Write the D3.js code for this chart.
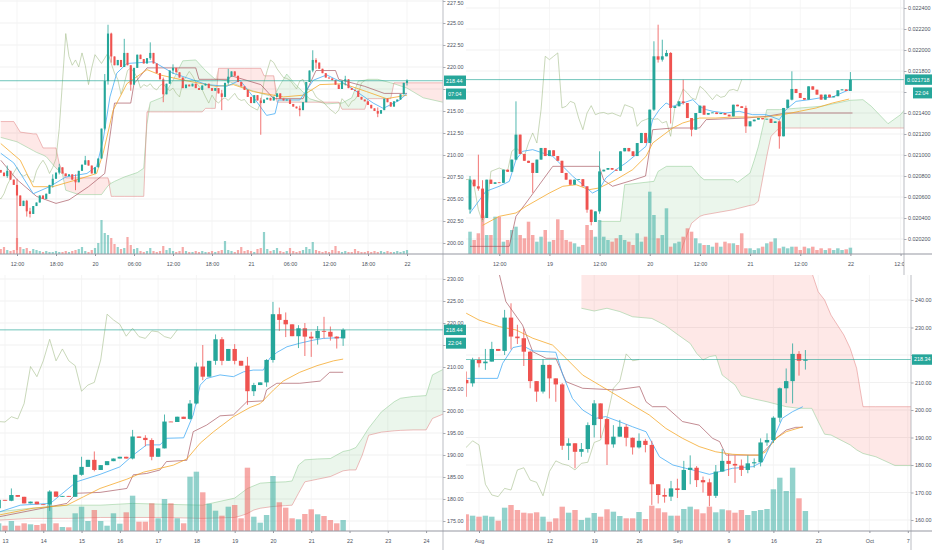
<!DOCTYPE html>
<html><head><meta charset="utf-8">
<script src="https://cdn.jsdelivr.net/npm/d3@7"></script>
<style>body{margin:0;background:#fff;}svg{display:block;}</style>
</head><body><script>
// ---------- PANEL 1 (30m candles) ----------
const p1FirstOpen = 208.3;
const p1Close = [208.0,207.6,208.2,207.2,206.6,205.4,204.2,204.8,203.6,203.3,
204.2,204.6,205.4,205.0,205.6,206.6,207.3,208.0,208.6,207.9,
207.6,207.8,207.2,206.9,208.2,208.9,209.4,208.8,207.9,208.6,
209.6,213.0,218.4,223.8,221.2,220.2,220.8,220.0,221.6,220.2,
218.0,219.9,221.4,220.9,220.4,221.0,221.6,220.4,219.3,218.6,
216.9,218.1,219.6,219.9,219.4,218.8,217.6,218.0,217.8,218.1,
217.6,217.4,217.9,218.1,217.6,217.3,217.6,217.0,216.6,218.2,
218.9,219.5,219.0,218.3,217.8,217.4,216.6,215.9,216.8,216.2,
215.9,216.3,216.5,216.2,216.6,217.0,216.4,216.2,216.3,215.8,
215.5,215.3,215.1,216.0,218.3,219.6,220.8,220.5,219.8,219.3,
218.8,218.7,218.5,218.0,217.5,218.4,218.6,217.6,217.4,217.3,
216.6,216.3,216.1,215.7,215.3,215.0,214.7,215.1,216.4,216.0,
215.5,216.1,216.3,216.9,218.2,218.44];
const p1Wicks = [[2,208.8,207.4],[5,207.3,199.2],[8,204.9,203.0],[9,204.0,202.9],[16,207.8,206.3],[18,209.0,207.8],[23,207.8,206.0],[26,209.9,208.9],[32,219.2,212.8],[33,224.8,218.0],[34,223.9,220.5],[38,223.2,220.0],[40,220.2,217.3],[46,222.8,220.8],[50,218.8,216.0],[53,220.3,219.2],[68,217.4,215.1],[70,219.8,218.0],[80,216.5,212.3],[92,215.6,214.4],[96,221.9,219.4],[97,221.0,219.8],[106,219.0,217.9],[116,215.4,214.3],[125,218.6,217.9]];
const p1Vol = [5,7,4,3,4,16,7,5,6,3, 5,4,3,2,3,2,2,3,2,2, 3,2,3,4,5,7,3,2,4,6, 11,34,21,19,16,10,7,5,6,17,
9,5,6,3,2,3,6,3,2,3, 8,4,6,3,2,3,7,3,2,2, 3,2,3,2,2,3,2,3,4,13, 4,3,2,4,7,3,4,3,2,5,
6,22,5,3,4,6,3,2,3,6, 3,2,3,4,7,5,12,4,3,2, 3,2,4,8,3,2,3,2,2,5, 3,2,2,3,2,3,2,3,2,3, 2,2,3,2,3,4];
const p1Blue = [[0,210.2],[4,209.1],[10,205.6],[15,206.4],[20,207.5],[26.5,207.9],[29.5,208.7],[31.5,211.7],[33.6,216.6],[35.7,219.3],[38.8,220.4],[47,220.6],[53,219.3],[63.4,218.0],[69.5,217.8],[73.6,218.5],[77.7,216.6],[81.8,214.5],[84.4,214.7],[85.4,216.25],[92,216.25],[96.2,218.5],[100.3,219.1],[106.4,218.0],[114.6,215.9],[117.7,215.3],[122.8,216.25],[125,217.0]];
const p1Orange = [[0,211.3],[6,209.4],[10,206.4],[16,206.4],[23.5,207.2],[29.5,207.9],[31.5,210.2],[34.6,215.1],[38.8,218.1],[45,219.7],[49,219.1],[56.2,218.5],[66.4,217.8],[71.6,218.0],[77.7,217.2],[87,216.6],[93.1,216.8],[98.2,218.0],[105.4,218.1],[112.6,217.2],[118.7,216.4],[125,216.8]];
const p1Base = [[0,209.4],[5,207.2],[11,205.3],[17,204.5],[21,204.9],[27,206.4],[32,207.9],[34,213.2],[35,215.9],[40,215.9],[41,218.1],[45,219.9],[60,219.9],[61,218.6],[70,218.6],[71,219.0],[80,218.0],[84,216.4],[93,216.4],[94,217.2],[97,219.6],[103,219.6],[104,218.6],[112,217.8],[118,217.0],[125,217.0]];
const p1Cloud = [[0,212.0,213.8],[4,211.6,213.8],[5,211.5,213.2],[6,211.3,212.6],[10,210.5,212.4],[11,210.3,212.4],[13,210.0,210.8],[14,209.8,210.8],[17,208.5,210.8],[18,208.2,209.0],[19,207.8,208.2],[20,206.0,207.4],[24,205.5,207.4],[31,205.5,207.4],[33,206.5,207.4],[34,206.8,205.3],[35,207.0,205.3],[38,207.5,205.3],[42,208.0,205.3],[44,208.5,205.3],[45,213.5,214.9],[46,216.0,214.9],[50,216.6,214.9],[53,218.5,214.9],[56,220.7,214.9],[60,220.8,214.9],[62,220.0,214.9],[63,219.6,215.3],[66,218.6,215.3],[67,218.6,219.85],[70,218.4,219.85],[75,217.6,219.85],[80,217.0,219.85],[81,216.9,219.0],[84,216.6,219.0],[85,217.3,216.0],[86,218.0,216.0],[88,219.2,216.0],[90,218.3,216.0],[95,216.4,216.0],[100,215.8,216.0],[104,215.9,216.0],[105,215.9,215.2],[108,216.5,215.2],[110,218.4,215.2],[112,218.5,215.2],[113,218.6,216.4],[116,218.6,216.4],[120,218.2,216.4],[121,218.1,218.2],[125,217.6,218.2],[130,216.5,218.2],[136,216.0,218.2]];
const p1XTicks = [5,17,29,41,53,65,77,89,101,113,125];
const p1XLabels = ["12:00","18:00","20","06:00","12:00","18:00","21","06:00","12:00","18:00","22"];
const p1YTicks = [200,202.5,205,207.5,210,212.5,215,217.5,220,222.5,225,227.5];

// ---------- PANEL 2 (1h candles, prices in units of 1e-6) ----------
const p2FirstOpen = 20480;
const p2Close = [20765,20702,20680,20400,20765,20725,20740,20735,20860,20840,
20956,21194,21010,20945,20925,20829,20956,21067,20990,21045,
20990,20945,20829,20765,20717,20765,20770,20702,20479,20362,
20463,20844,20860,20876,20860,20850,21035,21067,21035,20990,
21114,21210,21114,21432,21940,21908,21940,21972,21448,21464,
21511,21495,21352,21241,21400,21470,21384,21400,21405,21390,
21400,21384,21368,21479,21464,21448,21273,21321,21337,21352,
21340,21345,21305,21320,21178,21448,21527,21629,21590,21543,
21527,21654,21622,21575,21527,21575,21549,21560,21616,21625,
21610,21718];
const p2Wicks = [[0,20800,20440],[2,21003,20660],[3,20760,20380],[11,21511,20950],[15,20900,20640],[28,20560,20450],[29,20480,20330],[31,21035,20440],[44,22083,21420],[45,22241,21880],[46,22098,21890],[47,22000,21950],[48,21980,21300],[51,21718,21480],[53,21300,21178],[66,21470,21210],[74,21330,21060],[77,21797,21520],[91,21790,21620]];
const p2Vol = [22.3,14,20.7,37.3,19,19,37.3,37.3,12.3,14, 24,27.3,19,15.7,32.3,19,12.3,17.3,24,12.3,
14,34.7,24,14,12.3,10.7,7.3,9,29,24, 17.3,34,17.3,14,12.3,15.7,19,14,12.3,9,
20.7,12.3,17.3,62.3,39,15.7,19,45.7,7.3,10.7, 12.3,17.3,25.7,22.3,15.7,10.7,9,9,7.3,11.3,
7.3,12.3,10.7,10.7,9,20.7,5.7,5.7,4,5.7, 7.3,10.7,12.3,15.7,5.7,7.3,5.7,7.3,7.3,4,
7.3,5.7,7.3,4,5.7,4,5.7,4,5.7,4, 4.7,6.3];
const p2Blue = [[0,20448],[3.8,20654],[7,20702],[9.4,20749],[11,20956],[12.6,21035],[15,21051],[17.4,21019],[19.8,20987],[22.2,20892],[24.6,20797],[27,20717],[29.3,20638],[30.9,20670],[32.5,20781],[34.9,20860],[37.3,20924],[39.7,21003],[42.1,21083],[43.7,21337],[45.3,21432],[46.9,21495],[48.5,21464],[50.9,21495],[53.3,21527],[54.9,21464],[56.5,21432],[58.1,21416],[61.2,21400],[64.4,21416],[67.6,21384],[70.8,21384],[74,21337],[75.6,21432],[78,21511],[81.2,21527],[83.6,21543],[86.7,21552],[90.7,21622],[91,21640]];
const p2Orange = [[3,20330],[7,20416],[11,20448],[13.4,20511],[19,20638],[22.2,20702],[25.4,20717],[28.5,20670],[30.9,20686],[34.9,20765],[38.9,20860],[42.1,20987],[43.7,21114],[46.9,21210],[48.5,21257],[50.9,21305],[54.9,21352],[58.8,21352],[62.8,21362],[66.8,21362],[70.8,21362],[74.8,21384],[78.8,21416],[82.8,21448],[86.7,21495],[90.7,21533]];
const p2Base = [[0,20130],[9.4,20130],[11,20416],[13.4,20543],[19.8,20892],[30.9,20892],[32,20760],[34.1,20702],[38.9,20760],[42,20800],[43.7,21241],[48.5,21257],[54.9,21257],[56.5,21337],[66,21352],[70.8,21368],[75.6,21400],[91.5,21400]];
const p2Cloud = [[31,20368,20000],[36,20368,20000],[37,20717,20000],[44,20749,20000],[45,20844,20000],[47,20892,20000],[50,20892,20000],[51,20892,20146],[53,20892,20350],[55,20797,20416],[56,20765,20430],[63,20765,20479],[64,20740,20490],[67,20829,20520],[68,20950,20527],[69,21083,20560],[71,21432,20987],[72,21432,21178],[74,21432,21257],[84,21464,21257],[91,21521,21257],[94,21527,21257],[96,21464,21257],[100,21298,21257],[103,21384,21257],[104,21432,21257]];
const p2XTicks = [7,19,31,43,55,67,79,91,103];
const p2XLabels = ["12:00","19","12:00","20","12:00","21","12:00","22","12:00"];
const p2YTicks = [20200,20400,20600,20800,21000,21200,21400,21600,21800,22000,22200,22400];

// ---------- PANEL 3 (4h candles) ----------
const p3FirstOpen = 177.9;
const p3Close = [179.8,179.6,180.9,180.5,179.0,179.4,178.8,178.7,181.7,180.5,
180.7,180.5,185.5,187.3,188.9,186.6,187.7,188.6,189.2,189.6,
189.2,194.2,193.9,193.4,189.6,191.5,197.6,197.5,198.7,198.2,
201.7,210.1,207.8,211.4,216.3,211.4,214.1,211.4,210.3,204.5,
205.9,206.5,211.6,222.0,220.7,219.7,217.0,218.8,216.9,216.5,
218.2,218.0,216.9,216.5,218.44];
const p3Wicks = [[1,182.4,179.5],[7,182.0,177.3],[12,189.6,185.3],[14,190.8,186.3],[20,195.7,189.0],[22,194.5,192.0],[23,193.8,188.8],[25,199.2,196.5],[29,202.5,198.0],[30,211.0,201.5],[31,215.0,207.0],[33,217.4,210.5],[34,216.8,210.4],[36,215.2,210.6],[38,212.3,201.4],[39,206.4,203.4],[41,211.8,205.5],[42,224.8,211.0],[43,223.5,218.2],[44,222.4,216.8],[46,219.5,214.3],[47,220.0,212.5],[48,218.0,212.3],[49,219.3,215.1],[50,221.4,216.5],[51,219.2,216.0],[52,217.0,214.2],[53,218.8,214.8]];
const p3Vol = [7.7,5.3,10,5.3,7.7,6.7,6,7.3,26,7.7, 4,3.7,17.7,24.3,10,21,10,5.3,17.7,7.3,
18.7,35.3,9.3,9.3,27.7,12.7,32,27.7,12.7,7.7, 54.3,59.3,38.7,27.3,20.3,15.3,24.3,26,12.7,63.3,
14.3,8.3,16,55,28.7,23.3,12.7,11.7,17,21.7, 16.7,15,11,7.7,11];
const p3Blue = [[-0.8,177.1],[2.4,178.6],[7.1,179.0],[11.2,183.9],[14.9,185.6],[18,187.3],[20.1,190.0],[22.2,192.3],[24.3,192.3],[25.3,193.8],[28,193.9],[29.5,199.1],[30.6,205.9],[31.6,207.4],[33.7,208.2],[35.8,207.8],[37.4,208.9],[38.9,209.3],[40.5,209.3],[41.5,212.0],[42.6,213.3],[44.2,214.6],[46.2,215.4],[48.3,216.1],[49.9,216.5],[53,216.7]];
const p3Orange = [[-0.8,176.4],[4.4,177.9],[9.7,178.6],[12.3,180.5],[14.9,182.4],[19.1,184.5],[21.7,186.1],[23.8,186.8],[26.4,187.7],[28.5,189.1],[30.6,192.7],[32.7,195.3],[35.8,198.7],[38.4,200.8],[40,201.7],[42.1,204.8],[43.6,206.8],[46.2,208.8],[48.9,210.3],[51.5,211.4],[53,211.8]];
const p3Base = [[-0.8,176.0],[9.7,179.0],[11.2,181.3],[14.9,181.5],[19.1,182.4],[20.1,185.5],[22.2,185.8],[24.3,186.6],[25.3,188.5],[28.5,188.8],[29.5,195.3],[31.6,196.8],[33.7,198.9],[35.8,199.1],[37.9,202.1],[40.5,202.3],[41,204.8],[42.6,206.3],[46.2,206.3],[49.4,206.8],[50.9,208.8],[53,208.8]];
const p3Cloud = [[-1,177.1,175.2],[4,177.9,175.6],[10,178.6,175.6],[15,178.6,175.8],[20,179.0,175.8],[25,178.8,175.8],[31,178.6,175.6],[36,180.2,175.8],[37,181.3,176.2],[38,182.4,176.7],[39,183.0,177.5],[40,183.6,177.9],[42,183.8,178.3],[44,183.9,178.5],[45,184.1,178.6],[46,187.7,181.3],[47,188.9,183.9],[49,189.1,184.5],[51,189.2,185.1],[53,190.8,186.4],[54,191.1,186.6],[55,191.7,186.6],[56,193.8,190.0],[57,196.1,194.5],[59,199.8,195.2],[61,202.1,195.5],[62,202.9,195.6],[64,203.3,195.7],[66,203.5,195.7],[67,208.2,198.3],[69,209.7,199.5]];
const p3XTicks = [0,6,12,18,24,30,36,42,48,54,60,66];
const p3XLabels = ["13","14","15","16","17","18","19","20","21","22","23","24"];
const p3YTicks = [175,180,185,190,195,200,205,210,215,220,225,230];

// ---------- PANEL 4 (daily candles, index = days from Aug 1) ----------
const p4FirstOpen = 210.9;
const p4Close = [209.7,218.2,217.0,217.6,222.2,221.5,233.6,226.7,226.1,221.2,
210.5,206.7,216.4,211.5,209.3,187.0,187.9,184.8,185.8,194.5,
202.4,196.7,187.5,190.3,193.9,189.9,186.4,188.8,187.3,173.0,
169.1,168.5,171.5,170.9,178.2,179.0,174.5,173.7,168.8,177.6,
181.5,180.4,179.8,178.2,180.6,181.0,188.2,189.1,197.2,207.9,
210.5,220.4,217.9,218.34];
const p4Wicks = [[-2,214.0,204.8],[-1,219.0,208.5],[0,219.2,215.5],[1,222.2,214.6],[2,224.8,219.5],[4,236.4,220.0],[5,238.8,222.0],[6,231.0,224.0],[7,229.6,216.0],[8,221.6,207.9],[9,210.0,203.0],[10,218.5,206.0],[11,216.5,204.2],[12,210.5,203.0],[13,209.8,185.5],[14,189.7,181.8],[15,186.6,178.8],[16,188.0,183.0],[17,195.5,184.5],[18,203.6,190.0],[19,202.0,189.8],[20,197.0,180.0],[21,194.5,186.3],[22,196.4,191.0],[23,194.8,186.8],[24,190.0,183.8],[25,191.5,186.0],[26,189.5,184.6],[27,188.8,165.5],[28,173.0,166.0],[29,171.5,166.3],[30,174.2,166.9],[31,175.0,168.0],[32,181.5,172.5],[33,183.5,173.0],[34,179.6,172.0],[35,175.8,170.0],[36,175.0,165.0],[37,180.0,168.0],[38,185.8,179.0],[39,184.0,176.0],[40,183.5,173.5],[41,182.0,176.0],[42,183.5,177.0],[43,182.4,179.0],[44,189.7,179.5],[45,191.5,187.0],[46,197.7,188.0],[47,208.2,195.5],[48,215.1,202.5],[49,224.2,202.4],[50,221.4,212.5],[51,221.8,214.7]];
const p4Vol = [16.7,15.3,14.3,15.3,14.3,10.3,23.3,26,21,18.3, 17.7,18.7,14.3,9.3,12.7,24.3,18.3,21,11,13.3,
18,14.3,21.7,19.3,15,12.7,12.7,19,12,25.3, 22.7,18.7,15.3,15.3,22,24.3,21.7,17.7,24.3,18.7,
21.7,20.7,18.3,21,16,20,21,22,41.7,53.3, 40,63.3,32.7,20];
const p4Blue = [[-1.8,211.5],[2.9,211.5],[3.7,217.0],[5.3,222.7],[6.8,223.4],[8.4,221.5],[12,221.0],[13.1,212.7],[14.6,204.2],[16.2,200.0],[18.3,197.0],[19.8,197.6],[21.9,195.8],[24,193.9],[26.1,192.1],[28.2,183.0],[30.3,180.0],[32.3,178.8],[34.4,177.6],[36,176.6],[37.6,177.6],[39.6,178.8],[42.8,179.4],[44.3,181.2],[45.9,189.1],[47.4,197.0],[49,199.4],[50.6,201.2]];
const p4Orange = [[-2,235.2],[0,232.7],[3.2,230.3],[5.8,229.1],[8.4,226.1],[11.5,223.6],[13.6,218.8],[16.2,212.7],[18.8,209.1],[21.4,205.5],[24,201.8],[26.6,198.2],[29.2,193.3],[31.8,189.7],[34.4,186.7],[37,184.8],[39.6,183.9],[42.2,183.6],[43.8,183.6],[44.8,184.8],[46.4,189.7],[48,192.1],[50.6,193.9]];
const p4Base = [[3.2,249.1],[4.2,239.4],[6.8,230.9],[8.4,221.2],[10.5,218.8],[12,218.8],[13.6,210.3],[16.2,207.9],[21.4,207.3],[25.1,208.5],[26.1,203.0],[27.1,201.2],[29.2,201.2],[31.8,195.8],[34.4,194.5],[36.5,189.7],[37.6,188.5],[38.6,183.6],[43.8,183.6],[44.8,185.5],[46.4,189.7],[48,192.7],[49.5,193.7],[50.6,193.7]];
const p4Cloud = [[16,237.0,252],[18,236.0,252],[20,237.0,252],[22,235.8,252],[24,233.9,252],[27,233.3,252],[29,230.9,252],[31,227.5,252],[33,224.2,252],[34,220.6,252],[35,218.2,252],[36,219.4,252],[37,219.8,252],[38,212.7,252],[40,209.1,252],[41,205.2,252],[43,204.0,252],[45,203.0,252],[48,201.2,252],[50,200.6,252],[52,200.6,250],[53,195.8,243.0],[54,191.2,240.0],[55,190.9,234.5],[57,188.5,227.3],[58,187.3,222.4],[59,185.5,215.2],[60,184.2,201.2],[62,183.0,201.2],[65,179.8,201.2],[68,179.8,201.2]];
const p4XTicks = [0,11,18,25,31,39,46,53,61,67];
const p4XLabels = ["Aug","12","19","26","Sep","9","16","23","Oct","7"];
const p4YTicks = [160,170,180,190,200,210,220,230,240];

// ---------- drawing ----------
const FONT = '"Liberation Sans", Arial, sans-serif';
const FS = 5.4;
const C = {up:'#26a69a', down:'#ef5350', vUp:'rgba(38,166,154,0.5)', vDown:'rgba(239,83,80,0.5)',
  blue:'#3fa9f5', orange:'#f5a524', base:'#a04a55', lag:'#a3bd8a', grid:'#eeeeee', text:'#4c525e', axis:'#a9acb4'};

const svg = d3.select('body').append('svg').attr('width',932).attr('height',550)
  .style('font-family',FONT);
const defs = svg.append('defs');

function buildCandles(start, firstOpen, closes, wicks, vols){
  const wm = new Map(wicks.map(r=>[r[0],r]));
  let prev = firstOpen;
  return closes.map((c,k)=>{
    const idx = start+k, o = prev; prev = c;
    const r = wm.get(idx);
    return {idx, o, c, v: vols[k],
      h: r ? Math.max(r[1],o,c) : Math.max(o,c),
      l: r ? Math.min(r[2],o,c) : Math.min(o,c)};
  });
}

function panel(cfg){
  const g = svg.append('g');
  const x = d3.scaleLinear().domain(cfg.xDom).range(cfg.xRng);
  const y = d3.scaleLinear().domain(cfg.yDom).range(cfg.yRng);
  const cid = 'clip'+cfg.name;
  defs.append('clipPath').attr('id',cid).append('rect')
    .attr('x',cfg.left).attr('y',cfg.top).attr('width',cfg.right-cfg.left).attr('height',cfg.bottom-cfg.top);
  const xid = 'xclip'+cfg.name;
  defs.append('clipPath').attr('id',xid).append('rect')
    .attr('x',cfg.left).attr('y',cfg.bottom).attr('width',cfg.right-cfg.left).attr('height',cfg.pBottom-cfg.bottom);

  // grid
  g.append('g').selectAll('line').data(cfg.yTicks).join('line')
    .attr('x1',cfg.left).attr('x2',cfg.right).attr('y1',d=>y(d)).attr('y2',d=>y(d))
    .attr('stroke',C.grid).attr('stroke-width',0.8);
  g.append('g').attr('clip-path',`url(#${cid})`).selectAll('line').data(cfg.xTicks).join('line')
    .attr('x1',d=>x(d)).attr('x2',d=>x(d)).attr('y1',cfg.top).attr('y2',cfg.bottom)
    .attr('stroke','#f3f3f3').attr('stroke-width',0.8);

  const plot = g.append('g').attr('clip-path',`url(#${cid})`);
  const candles = buildCandles(cfg.start, cfg.firstOpen, cfg.close, cfg.wicks, cfg.vol);

  // cloud
  const cl = cfg.cloud;
  plot.append('path').datum(cl).attr('fill','rgba(76,175,80,0.11)')
    .attr('d', d3.area().x(d=>x(d[0])).y0(d=>y(d[2])).y1(d=>y(Math.max(d[1],d[2]))));
  plot.append('path').datum(cl).attr('fill','rgba(244,67,54,0.12)')
    .attr('d', d3.area().x(d=>x(d[0])).y0(d=>y(d[1])).y1(d=>y(Math.max(d[1],d[2]))));
  plot.append('path').datum(cl).attr('fill','none').attr('stroke','#8cc98f').attr('stroke-width',0.7).attr('opacity',0.75)
    .attr('d', d3.line().x(d=>x(d[0])).y(d=>y(d[1])));
  plot.append('path').datum(cl).attr('fill','none').attr('stroke','#e08080').attr('stroke-width',0.7).attr('opacity',0.75)
    .attr('d', d3.line().x(d=>x(d[0])).y(d=>y(d[2])));

  // volume
  const vh = d3.scaleLinear().domain([0,d3.max(cfg.vol)]).range([0,cfg.volPx]);
  plot.append('g').selectAll('rect').data(candles).join('rect')
    .attr('x',d=>x(d.idx)-cfg.vw/2).attr('width',cfg.vw)
    .attr('y',d=>cfg.bottom-vh(d.v)).attr('height',d=>vh(d.v))
    .attr('fill',d=>d.c>=d.o?C.vUp:C.vDown);

  // indicator lines
  const ln = d3.line().x(d=>x(d[0])).y(d=>y(d[1]));
  const lag = candles.map(d=>[d.idx-cfg.lagShift, d.c]);
  [[lag,C.lag,0.7,0.85],[cfg.base,C.base,0.8,0.8],[cfg.orange,C.orange,0.9,0.85],[cfg.blue,C.blue,0.9,0.85]]
    .forEach(([data,col,w,op])=>{
      plot.append('path').datum(data).attr('fill','none').attr('stroke',col)
        .attr('stroke-width',w).attr('opacity',op).attr('d',ln);
    });

  // candles
  const cg = plot.append('g');
  cg.selectAll('line').data(candles).join('line')
    .attr('x1',d=>x(d.idx)).attr('x2',d=>x(d.idx)).attr('y1',d=>y(d.h)).attr('y2',d=>y(d.l))
    .attr('stroke',d=>d.c>=d.o?C.up:C.down).attr('stroke-width',0.8);
  cg.selectAll('rect').data(candles).join('rect')
    .attr('x',d=>x(d.idx)-cfg.cw/2).attr('width',cfg.cw)
    .attr('y',d=>y(Math.max(d.o,d.c)))
    .attr('height',d=>Math.max(0.8, Math.abs(y(d.o)-y(d.c))))
    .attr('fill',d=>d.c>=d.o?C.up:C.down);

  // last price line
  const yl = y(cfg.last);
  plot.append('line').attr('x1',cfg.left).attr('x2',cfg.right).attr('y1',yl).attr('y2',yl)
    .attr('stroke','#1fa596').attr('stroke-width',0.8).attr('opacity',0.8);

  // axes lines
  g.append('line').attr('x1',cfg.right).attr('x2',cfg.right).attr('y1',cfg.top).attr('y2',cfg.pBottom)
    .attr('stroke',C.axis).attr('stroke-width',0.8);
  g.append('line').attr('x1',cfg.pLeft).attr('x2',cfg.pRight).attr('y1',cfg.bottom).attr('y2',cfg.bottom)
    .attr('stroke','#9598a1').attr('stroke-width',1.2);

  // y axis (labels under the price boxes are hidden, as on the reference)
  const hidden = t => Math.abs(y(t)-yl) < 6 || (cfg.countdown && Math.abs(y(t)-(yl+13.3)) < 6.5);
  const ya = g.append('g').attr('transform',`translate(${cfg.right},0)`)
    .call(d3.axisRight(y).tickValues(cfg.yTicks).tickFormat(t=>hidden(t)?'':cfg.yFmt(t)).tickSize(2.5).tickPadding(1.5));
  ya.select('.domain').remove();
  ya.selectAll('line').attr('stroke',C.axis);
  ya.selectAll('text').attr('font-size',FS).attr('font-family',FONT).attr('fill',C.text)
    .attr('y',t=> (y(t)-cfg.top) < 3 ? (cfg.top + 3 - y(t)) : 0);

  // x axis
  const xa = g.append('g').attr('clip-path',`url(#${xid})`).append('g').attr('transform',`translate(0,${cfg.bottom})`)
    .call(d3.axisBottom(x).tickValues(cfg.xTicks).tickFormat((d,i)=>cfg.xLabels[i]).tickSize(2).tickPadding(6));
  xa.select('.domain').remove();
  xa.selectAll('line').attr('stroke','#9598a1');
  xa.selectAll('text').attr('font-size',FS).attr('font-family',FONT).attr('fill',C.text);

  // price boxes
  g.append('rect').attr('x',cfg.boxX).attr('y',yl-5.2).attr('width',cfg.pRight-cfg.boxX).attr('height',10.4).attr('fill',C.up);
  g.append('text').attr('x',cfg.boxX+2).attr('y',yl).attr('dy','0.35em').attr('font-size',FS).attr('fill','#fff').text(cfg.lastLabel);
  if(cfg.countdown){
    g.append('rect').attr('x',cfg.cdX).attr('y',yl+7.8).attr('width',cfg.pRight-cfg.cdX).attr('height',11).attr('fill',C.up);
    g.append('text').attr('x',cfg.cdX+2).attr('y',yl+13.3).attr('dy','0.35em').attr('font-size',FS).attr('fill','#fff').text(cfg.countdown);
  }
}

const f2 = d=>d.toFixed(2);

panel({name:'1', left:0, right:443, top:0, bottom:254, pLeft:0, pRight:466, pBottom:275,
  xDom:[0,125], xRng:[0.75,407], yDom:[200,220], yRng:[243,67],
  start:0, firstOpen:p1FirstOpen, close:p1Close, wicks:p1Wicks, vol:p1Vol, volPx:34, cw:2.1, vw:2.2,
  blue:p1Blue, orange:p1Orange, base:p1Base, cloud:p1Cloud, lagShift:13,
  xTicks:p1XTicks, xLabels:p1XLabels, yTicks:p1YTicks, yFmt:f2,
  last:218.44, lastLabel:'218.44', countdown:'07:04', boxX:444, cdX:446});

panel({name:'2', left:466, right:904, top:0, bottom:254, pLeft:466, pRight:932, pBottom:275,
  xDom:[0,91], xRng:[470,850.4], yDom:[21200,21400], yRng:[134,113],
  start:0, firstOpen:p2FirstOpen, close:p2Close, wicks:p2Wicks, vol:p2Vol, volPx:62.3, cw:2.9, vw:3.5,
  blue:p2Blue, orange:p2Orange, base:p2Base, cloud:p2Cloud, lagShift:26,
  xTicks:p2XTicks, xLabels:p2XLabels, yTicks:p2YTicks, yFmt:d=>(d*1e-6).toFixed(6),
  last:21718, lastLabel:'0.021718', countdown:'22:04', boxX:905, cdX:913});

panel({name:'3', left:0, right:443, top:275, bottom:531, pLeft:0, pRight:466, pBottom:550,
  xDom:[0,1], xRng:[5,11.38], yDom:[200,205], yRng:[411,389],
  start:-1, firstOpen:p3FirstOpen, close:p3Close, wicks:p3Wicks, vol:p3Vol, volPx:63.3, cw:4.4, vw:5.4,
  blue:p3Blue, orange:p3Orange, base:p3Base, cloud:p3Cloud, lagShift:26,
  xTicks:p3XTicks, xLabels:p3XLabels, yTicks:p3YTicks, yFmt:f2,
  last:218.44, lastLabel:'218.44', countdown:'22:04', boxX:444, cdX:446});

panel({name:'4', left:466, right:911, top:275, bottom:531, pLeft:466, pRight:932, pBottom:550,
  xDom:[0,1], xRng:[479,485.4], yDom:[200,210], yRng:[410,382.5],
  start:-2, firstOpen:p4FirstOpen, close:p4Close, wicks:p4Wicks, vol:p4Vol, volPx:63.3, cw:4.4, vw:5.4,
  blue:p4Blue, orange:p4Orange, base:p4Base, cloud:p4Cloud, lagShift:26,
  xTicks:p4XTicks, xLabels:p4XLabels, yTicks:p4YTicks, yFmt:f2,
  last:218.34, lastLabel:'218.34', countdown:null, boxX:912, cdX:912});
</script></body></html>
